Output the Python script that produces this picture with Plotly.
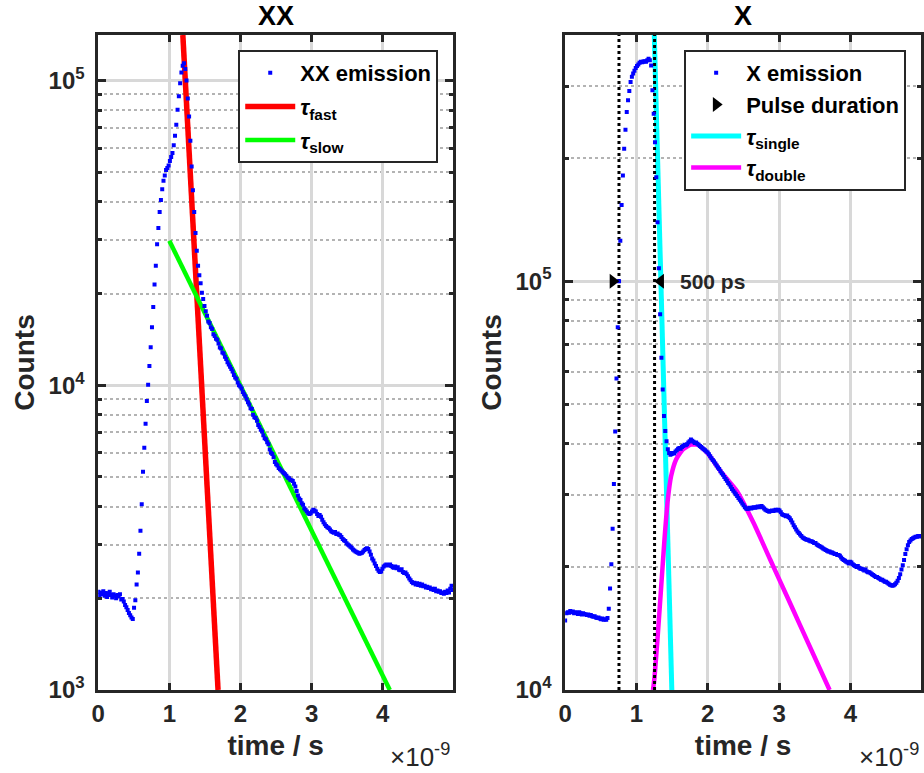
import math
import plotly.graph_objects as go

# ---------------- data ----------------
bin_ns = 0.018  # TCSPC bin width in ns

xx_counts = [
    2100, 2050, 2090, 2060, 2110, 2040, 2080, 2020, 2070, 2100,
    2050, 2010, 2060, 2040, 2000, 2050, 2030, 2060, 1980, 1990,
    1950, 1900, 1870, 1830, 1790, 1760, 1730, 1710,
    1860, 1970, 2220, 2430, 2800, 3330, 4070, 5200, 6230, 7480, 8870, 10040,
    11560, 13330, 15500, 18070, 21400, 24660, 29000, 32800, 37000, 40500, 44000, 46900,
    48800, 50800, 51600, 52600, 54400, 56100, 57800, 61300, 65900, 71600, 80200, 88700,
    98000, 106200, 111700, 114000,
    109000, 100000, 87300, 76200, 63400, 52200, 43600, 37000, 31600, 27600, 24660,
    22960, 21600, 20100, 19200,
    18200, 17500, 16900, 16200, 16000, 15500, 15300, 14700, 14500, 14200, 14100, 13700,
    13300, 13200, 12800, 12700, 12400, 12200, 11900, 11700, 11500, 11300, 11100, 10800,
    10600, 10500, 10200, 10000, 9900, 9750, 9500, 9350,
    9200, 9000, 8800, 8650, 8400, 8350, 8000, 7850, 7800, 7650, 7400, 7300, 7150, 7050,
    6850, 6700, 6650, 6500, 6400, 6150, 6000, 5950, 5800, 5600, 5500, 5450, 5350, 5300, 5250,
    5200, 5150, 5100, 5050, 4980, 4950, 4900, 4880, 4850, 4750, 4650, 4500, 4350, 4250,
    4200, 4100, 4050, 3950, 3900, 3850, 3800, 3780, 3800, 3850, 3900, 3880, 3850, 3780,
    3720, 3750, 3700, 3620, 3550, 3500, 3450, 3420, 3400, 3360, 3320, 3300, 3280, 3300,
    3250, 3260, 3230, 3220, 3180, 3130, 3100, 3080, 3030, 3000, 2980, 2950, 2930, 2890,
    2870, 2850, 2830, 2820, 2800, 2810, 2820, 2850, 2880, 2900, 2920, 2900, 2850, 2780,
    2700, 2660, 2600, 2550, 2500, 2460, 2440, 2450, 2500, 2540, 2560, 2580, 2570, 2560,
    2580, 2550, 2530, 2520, 2540, 2510, 2530, 2480, 2470, 2490, 2440, 2420, 2430, 2400,
    2360, 2320, 2290, 2260, 2240, 2250, 2220, 2240, 2210, 2230, 2200, 2220, 2190, 2200,
    2170, 2180, 2160, 2170, 2140, 2150, 2130, 2150, 2110, 2120, 2100, 2110, 2080, 2090,
    2070, 2100, 2080, 2120, 2090, 2150, 2200, 2130,
]

x_counts = [
    14800, 15400, 15500, 15450, 15600, 15500, 15550, 15400, 15500, 15450,
    15350, 15500, 15400, 15300, 15400, 15350, 15300, 15250, 15300, 15200,
    15250, 15150, 15100, 15150, 15050, 15000, 15050, 14950, 14900, 14950,
    14850, 14900, 14850, 15000,
    15800, 17700, 20300, 24800, 31900, 42900, 57800, 77100, 100000, 125500,
    153600, 181200, 210700, 234600, 259200, 276900, 291800, 307000,
    316000, 322000, 327000, 332000, 336000, 339000, 342000, 344000, 343000, 344500,
    345000, 344000, 347000, 350000, 347000,
    337000, 293000, 256600, 218600, 179500, 139300, 107500, 83000, 65000, 54300, 46800,
    43000, 40600, 38800, 38000, 37600, 37800, 38000, 37900, 38300, 38600, 38900, 39100,
    38900, 39300, 39500, 39800, 39700, 39900, 40300, 40600, 41000, 40700, 40500, 40200,
    40300, 40000, 39800, 39500, 39300, 39000, 38800, 38600, 38300, 38100, 37700, 37300,
    36900, 36500, 36200, 35800, 35400, 35000, 34700, 34300, 33900, 33600, 33200, 32800,
    32500, 32100, 31800, 31400, 31000, 30700, 30400, 30100, 29800, 29500, 29200, 28900,
    28600, 28300, 28000, 27800, 27700, 27800, 27900, 27800, 27900, 28000, 27900, 28000,
    28100, 28000, 28100, 28200, 28000, 27800, 27600, 27500, 27400, 27300, 27400, 27500,
    27400, 27500, 27600, 27500, 27600, 27500, 27200, 26900, 26800, 26700, 26600, 26700,
    26500, 26300, 26000, 25700, 25300, 25000, 24700, 24400, 24200, 24000, 23800, 23600,
    23500, 23400, 23300, 23300, 23200, 23100, 23100, 23000, 22900, 22900, 22700, 22600,
    22500, 22400, 22300, 22200, 22100, 22000, 21900, 21800, 21800, 21700, 21700, 21600,
    21500, 21500, 21400, 21400, 21300, 21100, 20900, 20800, 20700, 20600, 20500, 20400,
    20600, 20500, 20300, 20200, 20100, 20000, 20100, 19900, 19800, 19800, 19700, 19600,
    19700, 19500, 19400, 19400, 19300, 19200, 19100, 19000, 18900, 18900, 18800, 18700,
    18600, 18600, 18500, 18400, 18400, 18300, 18200, 18100, 18050, 18000, 18050, 18150,
    18300, 18500, 18800, 19200, 19700, 20200, 20800, 21500, 22100, 22600, 23000, 23200,
    23400, 23500, 23600, 23700, 23700, 23800, 23750, 23800,
]

# exponential fits (straight lines on a log axis)
fast_t = [1.19, 1.685]
fast_counts = [141000, 1000]
slow_t = [1.0, 4.1]
slow_counts = [29800, 1000]
single_t = [1.25, 1.496]
single_counts = [401000, 10000]
double_t = [1.232, 1.254, 1.301, 1.347, 1.393, 1.440, 1.486, 1.556, 1.649, 1.764,
            1.857, 1.996, 2.181, 2.413, 2.643, 2.875, 3.107, 3.292, 3.708]
double_counts = [10000, 10780, 13770, 17910, 23340, 29230, 33350, 36630, 38730, 39810,
                 39810, 38000, 34270, 30600, 25600, 20850, 17000, 14430, 10000]

# excitation pulse (500 ps)
pulse_edges_t = [0.755, 1.254]
pulse_arrow_right_t = [0.670]
pulse_arrow_left_t = [1.340]
pulse_arrow_counts = [100000]
pulse_label = "500 ps"
pulse_label_t = 1.58

x_ticks = [0, 1, 2, 3, 4]
left_yticks = [1e3, 1e4, 1e5]
left_yticklabels = ["10<sup>3</sup>", "10<sup>4</sup>", "10<sup>5</sup>"]
left_minor = [m * 10 ** d for d in (3, 4) for m in range(2, 10)]
right_yticks = [1e4, 1e5]
right_yticklabels = ["10<sup>4</sup>", "10<sup>5</sup>"]
right_minor = [m * 10 ** d for d in (4,) for m in range(2, 10)] + [2e5, 3e5]

xx_time = [round(i * bin_ns, 4) for i in range(len(xx_counts))]
x_time = [round(i * bin_ns, 4) for i in range(len(x_counts))]

# ---------------- styling ----------------
FONT = "Liberation Sans, Arial, sans-serif"
FRAME = "#262626"
GRID = "#d8d8d8"
MINOR_GRID = "#b3b3b3"

fig = go.Figure()

# left panel ("XX")
fig.add_trace(go.Scatter(x=fast_t, y=fast_counts, mode="lines", name="<i>τ</i><sub>fast</sub>",
                         line=dict(color="#ff0000", width=5.5), xaxis="x", yaxis="y",
                         legend="legend", legendgroup="a2", legendrank=2))
fig.add_trace(go.Scatter(x=slow_t, y=slow_counts, mode="lines", name="<i>τ</i><sub>slow</sub>",
                         line=dict(color="#00ff00", width=4.5), xaxis="x", yaxis="y",
                         legend="legend", legendgroup="a3", legendrank=3))
fig.add_trace(go.Scatter(x=xx_time, y=xx_counts, mode="markers", name="XX emission",
                         marker=dict(symbol="square", size=4, color="#0000ff"),
                         xaxis="x", yaxis="y", legend="legend", legendgroup="a1", legendrank=1))

# right panel ("X")
fig.add_trace(go.Scatter(x=single_t, y=single_counts, mode="lines", name="<i>τ</i><sub>single</sub>",
                         line=dict(color="#00ffff", width=5), xaxis="x2", yaxis="y2",
                         legend="legend2", legendgroup="b3", legendrank=3))
fig.add_trace(go.Scatter(x=double_t, y=double_counts, mode="lines", name="<i>τ</i><sub>double</sub>",
                         line=dict(color="#ff00ff", width=4.5, shape="spline", smoothing=0.5),
                         xaxis="x2", yaxis="y2", legend="legend2", legendgroup="b4", legendrank=4))
for t in pulse_edges_t:
    fig.add_trace(go.Scatter(x=[t, t], y=[1e4, 4.2e5], mode="lines", showlegend=False,
                             line=dict(color="black", width=3, dash="dot"),
                             xaxis="x2", yaxis="y2", hoverinfo="skip"))
fig.add_trace(go.Scatter(x=x_time, y=x_counts, mode="markers", name="X emission",
                         marker=dict(symbol="square", size=4, color="#0000ff"),
                         xaxis="x2", yaxis="y2", legend="legend2", legendgroup="b1", legendrank=1))
fig.add_trace(go.Scatter(x=pulse_arrow_right_t, y=pulse_arrow_counts, mode="markers",
                         name="Pulse duration",
                         marker=dict(symbol="triangle-right", size=13, color="black"),
                         xaxis="x2", yaxis="y2", legend="legend2", legendgroup="b2", legendrank=2))
fig.add_trace(go.Scatter(x=pulse_arrow_left_t, y=pulse_arrow_counts, mode="markers",
                         showlegend=False,
                         marker=dict(symbol="triangle-left", size=13, color="black"),
                         xaxis="x2", yaxis="y2"))

tickfont = dict(family=FONT, size=24, color=FRAME, weight="bold")
titlefont = dict(family=FONT, size=28, color=FRAME, weight="bold")


def xaxis_style(domain, anchor):
    return dict(domain=domain, anchor=anchor, range=[0, 4.99],
                tickmode="array", tickvals=x_ticks, ticktext=[str(v) for v in x_ticks],
                showline=True, linecolor=FRAME, linewidth=2.5, mirror="ticks",
                ticks="inside", ticklen=7, tickwidth=2.5, tickcolor=FRAME,
                showgrid=True, gridcolor=GRID, gridwidth=2.5, zeroline=False,
                tickfont=tickfont,
                title=dict(text="time / s", font=titlefont, standoff=10))


def yaxis_style(domain_anchor, rng, tickvals, ticktext, minor_vals):
    return dict(anchor=domain_anchor, type="log", range=rng,
                tickmode="array", tickvals=tickvals, ticktext=ticktext,
                showline=True, linecolor=FRAME, linewidth=2.5, mirror="ticks",
                ticks="inside", ticklen=8, tickwidth=2.5, tickcolor=FRAME,
                showgrid=True, gridcolor=GRID, gridwidth=2.5, zeroline=False,
                ticklabelstandoff=6,
                minor=dict(tickmode="array", tickvals=minor_vals, ticks="inside", ticklen=4,
                           tickwidth=2.5, tickcolor=FRAME, showgrid=True,
                           gridcolor=MINOR_GRID, griddash="dot", gridwidth=2),
                tickfont=tickfont,
                title=dict(text="Counts", font=titlefont, standoff=6))


legend_common = dict(yanchor="top", xanchor="right", bgcolor="white",
                     bordercolor=FRAME, borderwidth=2, traceorder="grouped",
                     itemwidth=50,
                     font=dict(family=FONT, size=22, color="black", weight="bold"))

fig.update_layout(
    width=924, height=773,
    margin=dict(l=0, r=0, t=35, b=83),
    paper_bgcolor="white", plot_bgcolor="white",
    xaxis=xaxis_style([92 / 924, 450 / 924], "y"),
    yaxis=yaxis_style("x", [3, math.log10(1.41e5)], left_yticks, left_yticklabels, left_minor),
    xaxis2=xaxis_style([563 / 924, 922 / 924], "y2"),
    yaxis2=yaxis_style("x2", [4, math.log10(4.0e5)], right_yticks, right_yticklabels, right_minor),
    legend=dict(x=435 / 924, y=(690 - 50) / 655, tracegroupgap=2, **legend_common),
    legend2=dict(x=907 / 924, y=(690 - 50) / 655, tracegroupgap=0, **legend_common),
    showlegend=True,
    annotations=[
        dict(text="XX", x=271 / 924, y=(690 - 16) / 655, xref="paper", yref="paper",
             showarrow=False, xanchor="center", yanchor="middle",
             font=dict(family=FONT, size=27, color="black", weight="bold")),
        dict(text="X", x=742.5 / 924, y=(690 - 16) / 655, xref="paper", yref="paper",
             showarrow=False, xanchor="center", yanchor="middle",
             font=dict(family=FONT, size=27, color="black", weight="bold")),
        dict(text="×10<sup>-9</sup>", x=449 / 924, y=(690 - 755) / 655, xref="paper", yref="paper",
             showarrow=False, xanchor="right", yanchor="middle",
             font=dict(family=FONT, size=26, color=FRAME)),
        dict(text="×10<sup>-9</sup>", x=922 / 924, y=(690 - 755) / 655, xref="paper", yref="paper",
             showarrow=False, xanchor="right", yanchor="middle",
             font=dict(family=FONT, size=26, color=FRAME)),
        dict(text=pulse_label, x=pulse_label_t, y=math.log10(pulse_arrow_counts[0]),
             xref="x2", yref="y2", showarrow=False, xanchor="left", yanchor="middle",
             font=dict(family=FONT, size=21, color=FRAME, weight="bold")),
    ],
)

fig.write_html("out.html")
